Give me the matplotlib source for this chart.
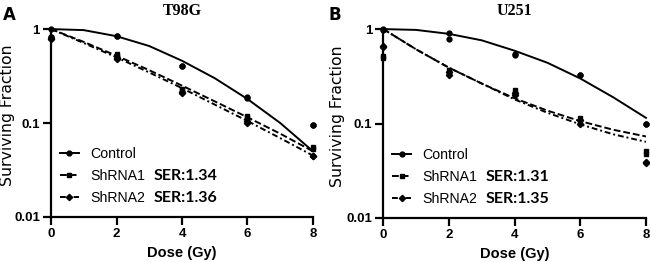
import matplotlib
matplotlib.use("Agg")
import matplotlib.pyplot as plt
from matplotlib.lines import Line2D

# ---------------- data ----------------
doses = [0, 2, 4, 6, 8]
curve_doses = [0, 1, 2, 3, 4, 5, 6, 7, 8]

# T98G measured points (two replicates at each dose)
t98g_ctrl_pts = [[1.0, 0.82], [0.85, 0.84], [0.40, 0.40], [0.19, 0.185], [0.096, 0.096]]
t98g_sh1_pts = [[0.82, 0.80], [0.54, 0.52], [0.23, 0.225], [0.12, 0.115], [0.055, 0.053]]
t98g_sh2_pts = [[0.80, 0.78], [0.495, 0.48], [0.215, 0.21], [0.105, 0.10], [0.045, 0.045]]
# T98G fitted curves
t98g_ctrl_fit = [1.0, 0.975, 0.84, 0.66, 0.46, 0.30, 0.18, 0.10, 0.05]
t98g_sh1_fit = [1.0, 0.73, 0.52, 0.365, 0.25, 0.17, 0.115, 0.077, 0.050]
t98g_sh2_fit = [1.0, 0.71, 0.50, 0.345, 0.235, 0.157, 0.105, 0.069, 0.045]

# U251 measured points
u251_ctrl_pts = [[1.0, 0.97], [0.90, 0.78], [0.55, 0.53], [0.33, 0.33], [0.10, 0.10]]
u251_sh1_pts = [[0.52, 0.50], [0.37, 0.34], [0.225, 0.21], [0.115, 0.105], [0.051, 0.048]]
u251_sh2_pts = [[0.66, 0.64], [0.35, 0.33], [0.21, 0.20], [0.108, 0.10], [0.039, 0.038]]
# U251 fitted curves
u251_ctrl_fit = [1.0, 0.98, 0.89, 0.76, 0.59, 0.44, 0.30, 0.19, 0.115]
u251_sh1_fit = [1.0, 0.61, 0.39, 0.265, 0.185, 0.137, 0.106, 0.086, 0.073]
u251_sh2_fit = [1.0, 0.61, 0.39, 0.265, 0.18, 0.13, 0.098, 0.077, 0.064]

panels = [
    dict(title="T98G", letter="A", ser=["SER:1.34", "SER:1.36"],
         pts=[t98g_ctrl_pts, t98g_sh1_pts, t98g_sh2_pts],
         fit=[t98g_ctrl_fit, t98g_sh1_fit, t98g_sh2_fit]),
    dict(title="U251", letter="B", ser=["SER:1.31", "SER:1.35"],
         pts=[u251_ctrl_pts, u251_sh1_pts, u251_sh2_pts],
         fit=[u251_ctrl_fit, u251_sh1_fit, u251_sh2_fit]),
]
labels = ["Control", "ShRNA1", "ShRNA2"]
xticks = [0, 2, 4, 6, 8]
yticks = [0.01, 0.1, 1]
ytick_labels = ["0.01", "0.1", "1"]

# ---------------- styles ----------------
SANS = "Liberation Sans"
styles = [
    dict(ls="-", marker="o", ms=3.5),
    dict(ls=(0, (3.5, 1.5)), marker="s", ms=3.2),
    dict(ls=(0, (3, 1.5, 1, 1.5)), marker="D", ms=3.2),
]

fig = plt.figure(figsize=(6.5, 2.62), dpi=100)
axes_pos = [[0.0785, 0.172, 0.403, 0.717], [0.5897, 0.168, 0.404, 0.721]]
ylabel_x = [-0.137, -0.146]
letter_x = [3, 329]

for k, (p, pos) in enumerate(zip(panels, axes_pos)):
    ax = fig.add_axes(pos)
    ax.set_yscale("log")
    handles = []
    for i in range(3):
        st = styles[i]
        ax.plot(curve_doses, p["fit"][i], color="black", lw=1.4, ls=st["ls"],
                clip_on=False, zorder=3)
        for d, reps in zip(doses, p["pts"][i]):
            ax.plot([d] * len(reps), reps, ls="none", marker=st["marker"],
                    ms=st["ms"], color="black", clip_on=False, zorder=4)
        handles.append(Line2D([], [], color="black", lw=1.4, ls=st["ls"],
                              marker=st["marker"], ms=st["ms"]))
    ax.set_xlim(0, 8)
    ax.set_ylim(0.01, 1.0)
    ax.set_xticks(xticks)
    ax.set_yticks(yticks)
    ax.set_yticklabels(ytick_labels)
    ax.yaxis.set_minor_locator(matplotlib.ticker.NullLocator())
    for s in ["top", "right"]:
        ax.spines[s].set_visible(False)
    for s in ["left", "bottom"]:
        ax.spines[s].set_linewidth(1.6)
    ax.tick_params(axis="both", which="major", direction="out", length=5.5,
                   width=1.6, pad=2.5)
    for lab in ax.get_xticklabels() + ax.get_yticklabels():
        lab.set_fontfamily(SANS)
        lab.set_fontweight("bold")
        lab.set_fontsize(9.5)
    ax.set_xlabel("Dose (Gy)", fontfamily=SANS, fontweight="bold", fontsize=10.5, labelpad=4.5)
    ax.set_ylabel("Surviving Fraction", fontfamily="DejaVu Sans", fontsize=11.3)
    ax.yaxis.set_label_coords(ylabel_x[k], 0.54)
    ax.set_title(p["title"], fontfamily="Liberation Serif", fontweight="bold",
                 fontsize=11.5, pad=10)
    leg = ax.legend(handles, labels, loc="lower left", bbox_to_anchor=(0.034, 0.065),
                    frameon=False, handlelength=1.35, handletextpad=0.8,
                    labelspacing=0.55, borderaxespad=0.0, borderpad=0.0,
                    prop=dict(family=SANS, size=10.2))
    fig.canvas.draw()
    # SER annotations aligned to legend rows
    texts = leg.get_texts()
    inv = ax.transAxes.inverted()
    for t, s in zip(texts[1:], p["ser"]):
        bb = t.get_window_extent()
        x1, yc = inv.transform((bb.x1 + 8, (bb.y0 + bb.y1) / 2))
        ax.text(x1, yc, s, transform=ax.transAxes, fontfamily="Lato",
                fontweight="bold", fontsize=11.5, va="center", ha="left")
    # panel letter
    fig.text(letter_x[k] / 650, 1 - 15.5 / 262, p["letter"], fontfamily="DejaVu Sans",
             fontweight="bold", fontsize=12, ha="left", va="center")

fig.savefig("out.png", dpi=100)
